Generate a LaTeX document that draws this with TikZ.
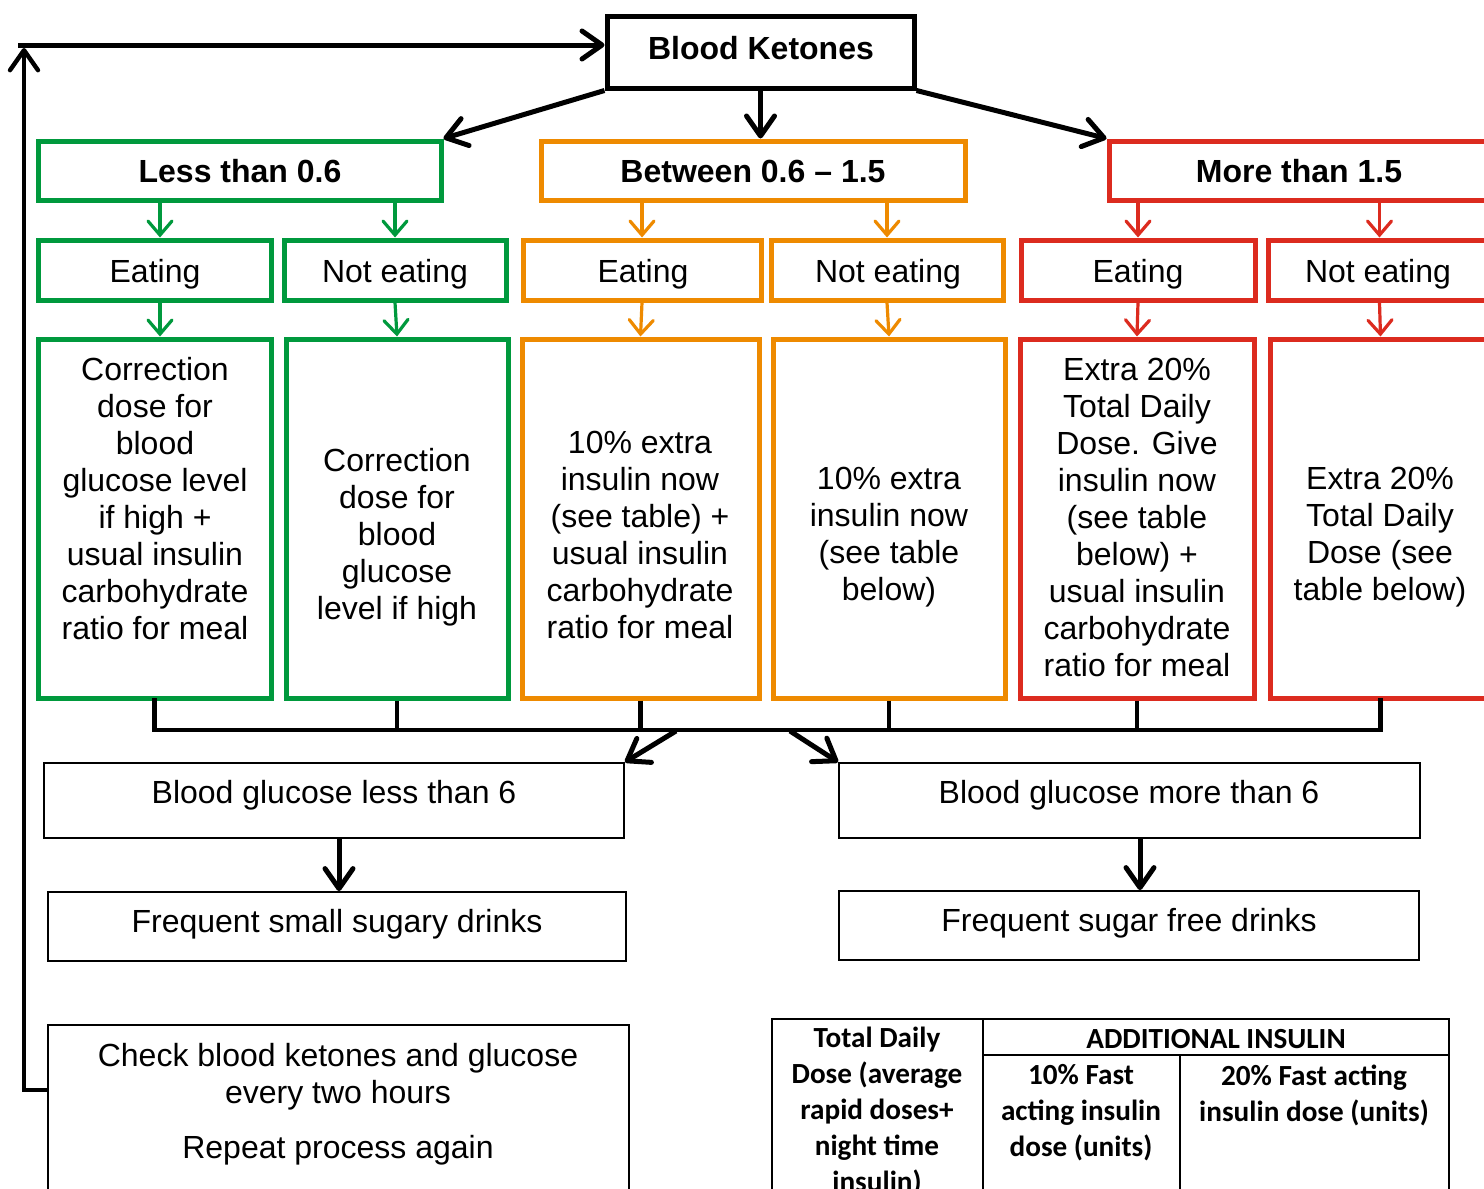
\documentclass[tikz,border=0pt]{standalone}
\usepackage{fontspec}
\setmainfont{Liberation Sans}
\newfontfamily\calib{Carlito}
\usetikzlibrary{arrows.meta,fit}
\definecolor{cgreen}{HTML}{00993D}
\definecolor{corange}{HTML}{EE8A00}
\definecolor{cred}{HTML}{DC2B1F}
\begin{document}
\begin{tikzpicture}[x=0.5pt,y=-0.5pt,
  mainfont/.style={font=\fontsize{16}{18.5}\selectfont},
  box/.style={draw, inner sep=0pt, line width=2.5pt, mainfont},
  kbox/.style={box, draw=black},
  gbox/.style={box, draw=cgreen},
  obox/.style={box, draw=corange},
  rbox/.style={box, draw=cred},
  headtxt/.style={inner sep=0pt, font=\fontsize{16}{18.5}\selectfont\bfseries},
  thinbox/.style={draw, line width=0.9pt, inner sep=0pt, mainfont},
  txt/.style={align=center, inner sep=0pt, mainfont},
  ttxt/.style={align=center, inner sep=0pt, font=\calib\bfseries\fontsize{14.6}{18}\selectfont},
  bigarrow/.style={line width=2.5pt, -{Straight Barb[length=10pt,width=14pt,line cap=round,line join=round]}},
  smallarrow/.style={line width=1.6pt, -{Straight Barb[length=7pt,width=12pt,line cap=round]}},
  garrow/.style={smallarrow, draw=cgreen},
  oarrow/.style={smallarrow, draw=corange},
  rarrow/.style={smallarrow, draw=cred},
  merge/.style={line width=2.3pt},
  tline/.style={line width=1pt}
]
\fill[white] (0,0) rectangle (1484,1189);
\useasboundingbox (0,0) rectangle (1484,1189);

% top
\node[kbox, fit={(607,16)(914,88)}] (bk) {};
\node[headtxt] (bkt) at (761,48) {Blood Ketones};

\node[gbox, fit={(38,141)(441,200)}] (lt) {};
\node[headtxt] (ltt) at (240,171) {Less than 0.6};
\node[obox, fit={(541,141)(965,200)}] (bt) {};
\node[headtxt] (btt) at (753,171) {Between 0.6 -- 1.5};
\node[rbox, fit={(1109,141)(1491,200)}] (mt) {};
\node[headtxt] (mtt) at (1299,171) {More than 1.5};

\draw[bigarrow] (bk.south west) -- (lt.north east);
\draw[bigarrow] (bk.south) -- (bt.north -| bk.south);
\draw[bigarrow] (bk.south east) -- (mt.north west);

% row 2
\node[gbox, fit={(38,240)(271,300)}] (ge) {};
\node[gbox, fit={(284,240)(506,300)}] (gn) {};
\node[obox, fit={(523,240)(761,300)}] (oe) {};
\node[obox, fit={(771,240)(1003,300)}] (on) {};
\node[rbox, fit={(1021,240)(1255,300)}] (re) {};
\node[rbox, fit={(1268,240)(1491,300)}] (rn) {};
\node[txt] (get) at (155,274) {Eating};
\node[txt] (gnt) at (395,274) {Not eating};
\node[txt] (oet) at (643,274) {Eating};
\node[txt] (ont) at (888,274) {Not eating};
\node[txt] (ret) at (1138,274) {Eating};
\node[txt] (rnt) at (1378,274) {Not eating};

\draw[garrow] (lt.south -| 160,0) -- (ge.north -| 160,0);
\draw[garrow] (lt.south -| gn.north) -- (gn.north);
\draw[oarrow] (bt.south -| oe.north) -- (oe.north);
\draw[oarrow] (bt.south -| on.north) -- (on.north);
\draw[rarrow] (mt.south -| re.north) -- (re.north);
\draw[rarrow] (mt.south -| rn.north) -- (rn.north);

% row 3
\node[gbox, fit={(38,339)(271,698)}] (gec) {};
\node[gbox, fit={(286,339)(508,698)}] (gnc) {};
\node[obox, fit={(522,339)(759,698)}] (oec) {};
\node[obox, fit={(773,339)(1005,698)}] (onc) {};
\node[rbox, fit={(1020,339)(1254,698)}] (rec) {};
\node[rbox, fit={(1270,339)(1491,698)}] (rnc) {};

\draw[garrow] (ge.south -| 160,0) -- (gec.north -| 160,0);
\draw[garrow] (gn.south) -- (gnc.north);
\draw[oarrow] (oe.south) -- (oec.north);
\draw[oarrow] (on.south) -- (onc.north);
\draw[rarrow] (re.south) -- (rec.north);
\draw[rarrow] (rn.south) -- (rnc.north);

\node[txt] (gect) at (155,499) {Correction\\dose for\\blood\\glucose level\\if high +\\usual insulin\\carbohydrate\\ratio for meal};
\node[txt] (gnct) at (397,537) {Correction\\dose for\\blood\\glucose\\level if high};
\node[txt] (oect) at (640,535) {10\% extra\\insulin now\\(see table) +\\usual insulin\\carbohydrate\\ratio for meal};
\node[txt] (onct) at (889,537) {10\% extra\\insulin now\\(see table\\below)};
\node[txt] (rect) at (1137,517) {Extra 20\%\\Total Daily\\Dose. Give\\insulin now\\(see table\\below) +\\usual insulin\\carbohydrate\\ratio for meal};
\node[txt] (rnct) at (1380,537) {Extra 20\%\\Total Daily\\Dose (see\\table below)};

% merge
\coordinate (mline) at (0,730);
\draw[merge, line cap=rect] (gec.south) -- (gec.south |- mline) -- (rnc.south |- mline) -- (rnc.south);
\draw[merge] (gnc.south) -- (gnc.south |- mline);
\draw[merge] (oec.south) -- (oec.south |- mline);
\draw[merge] (onc.south) -- (onc.south |- mline);
\draw[merge] (rec.south) -- (rec.south |- mline);

% glucose boxes
\node[thinbox, fit={(44,763)(624,838)}] (bgl) {};
\node[txt] (bglt) at (334,795) {Blood glucose less than 6};
\node[thinbox, fit={(839,763)(1420,838)}] (bgm) {};
\node[txt] (bgmt) at (1129,795) {Blood glucose more than 6};

\coordinate (ml) at (676,731);
\coordinate (mr) at (790,731);
\draw[bigarrow] (ml) -- (bgl.north east);
\draw[bigarrow] (mr) -- (bgm.north west);

\node[thinbox, fit={(48,892)(626,961)}] (fsl) {};
\node[txt] (fslt) at (337,924) {Frequent small sugary drinks};
\node[thinbox, fit={(839,891)(1419,960)}] (fsf) {};
\node[txt] (fsft) at (1129,923) {Frequent sugar free drinks};

\draw[bigarrow] (bgl.south -| 339,0) -- (fsl.north -| 339,0);
\draw[bigarrow] (bgm.south -| 1140,0) -- (fsf.north -| 1140,0);

% check box and feedback
\node[thinbox, fit={(48,1025)(629,1210)}] (chk) {};
\node[txt] (chkt) at (338,1104) {Check blood ketones and glucose\\every two hours\\[9pt]Repeat process again};

\coordinate (fb1) at (24,1090);
\coordinate (fb2) at (24,48);
\coordinate (fb3) at (18,45);
\draw[line width=2.2pt, -{Straight Barb[length=10pt,width=14pt,line cap=round,line join=round]}] (chk.west |- fb1) -- (fb1) -- (fb2);
\draw[bigarrow] (fb3) -- (bk.west |- fb3);

% table
\coordinate (t1) at (772,1019);
\coordinate (t2) at (1449,1210);
\draw[tline] (t1) rectangle (t2);
\draw[tline] (983,1019) -- (983,1210);
\draw[tline] (983,1055) -- (1449,1055);
\draw[tline] (1180,1055) -- (1180,1210);
\node[ttxt] (tc1) at (877,1111) {Total Daily\\Dose (average\\rapid doses+\\night time\\insulin)};
\node[ttxt] (tc2) at (1216,1039) {ADDITIONAL INSULIN};
\node[ttxt] (tc3) at (1081,1113) {10\% Fast\\acting insulin\\dose (units)};
\node[ttxt] (tc4) at (1314,1095) {20\% Fast acting\\insulin dose (units)};
\end{tikzpicture}
\end{document}
